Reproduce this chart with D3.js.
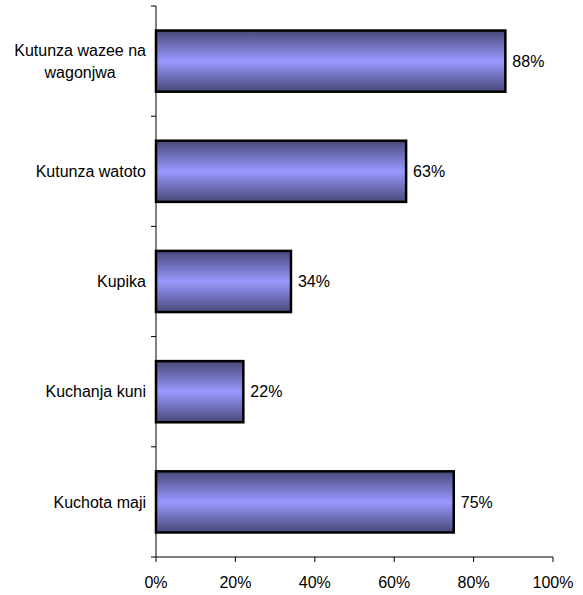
<!DOCTYPE html>
<html><head><meta charset="utf-8">
<script src="https://cdn.jsdelivr.net/npm/d3@7"></script>
<style>body{margin:0;background:#fff}text{font-family:"Liberation Sans",Arial,sans-serif;font-size:16px;fill:#000}</style>
</head><body>
<svg id="c" width="583" height="595"></svg>
<script>
const categories = [["Kutunza wazee na","wagonjwa"],["Kutunza watoto"],["Kupika"],["Kuchanja kuni"],["Kuchota maji"]];
const values = [0.88, 0.63, 0.34, 0.22, 0.75];
const xTicks = [0, 0.2, 0.4, 0.6, 0.8, 1.0];

const svg = d3.select("#c");
const mLeft = 156, mRight = 553, mTop = 6, mBottom = 557;
const x = d3.scaleLinear().domain([0, 1]).range([mLeft, mRight]);
const y = d3.scaleBand().domain(d3.range(categories.length)).range([mTop, mBottom]).paddingInner(0.445).paddingOuter(0.2225);

const defs = svg.append("defs");
const g = defs.append("linearGradient").attr("id","grad").attr("x1",0).attr("y1",0).attr("x2",0).attr("y2",1);
g.append("stop").attr("offset","0%").attr("stop-color","#48487a");
g.append("stop").attr("offset","50%").attr("stop-color","#9999ff");
g.append("stop").attr("offset","100%").attr("stop-color","#48487a");

// bars
svg.selectAll("rect.bar").data(values).join("rect").attr("class","bar")
  .attr("x", x(0)).attr("y", (d,i)=>y(i))
  .attr("width", d=>x(d)-x(0)).attr("height", y.bandwidth())
  .attr("fill","url(#grad)").attr("stroke","#000").attr("stroke-width",2.5);

// value labels
svg.selectAll("text.val").data(values).join("text").attr("class","val")
  .attr("x", d=>x(d)+7).attr("y", (d,i)=>y(i)+y.bandwidth()/2).attr("dy","0.35em")
  .text(d=>Math.round(d*100)+"%");

// y axis
svg.append("line").attr("x1",mLeft).attr("x2",mLeft).attr("y1",mTop).attr("y2",mBottom).attr("stroke","#000");
const bounds = d3.range(categories.length+1).map(i=> mTop + i*(mBottom-mTop)/categories.length);
svg.selectAll("line.yt").data(bounds).join("line").attr("class","yt")
  .attr("x1",mLeft-5).attr("x2",mLeft).attr("y1",d=>d).attr("y2",d=>d).attr("stroke","#000");

// category labels
categories.forEach((lines,i)=>{
  const cy = y(i)+y.bandwidth()/2;
  const t = svg.append("text").attr("text-anchor","middle");
  const lh = 22;
  lines.forEach((ln,j)=>{
    t.append("tspan").attr("x",0).attr("y", cy + (j-(lines.length-1)/2)*lh).attr("dy","0.35em").text(ln);
  });
  const w = t.node().getBBox().width;
  t.selectAll("tspan").attr("x", 146 - w/2);
});

// x axis
svg.append("line").attr("x1",mLeft).attr("x2",mRight).attr("y1",mBottom).attr("y2",mBottom).attr("stroke","#000");
svg.selectAll("line.xt").data(xTicks).join("line").attr("class","xt")
  .attr("x1",d=>x(d)).attr("x2",d=>x(d)).attr("y1",mBottom).attr("y2",mBottom+5).attr("stroke","#000");
svg.selectAll("text.xl").data(xTicks).join("text").attr("class","xl")
  .attr("x",d=>x(d)).attr("y",588).attr("text-anchor","middle")
  .text(d=>Math.round(d*100)+"%");
</script>
</body></html>
